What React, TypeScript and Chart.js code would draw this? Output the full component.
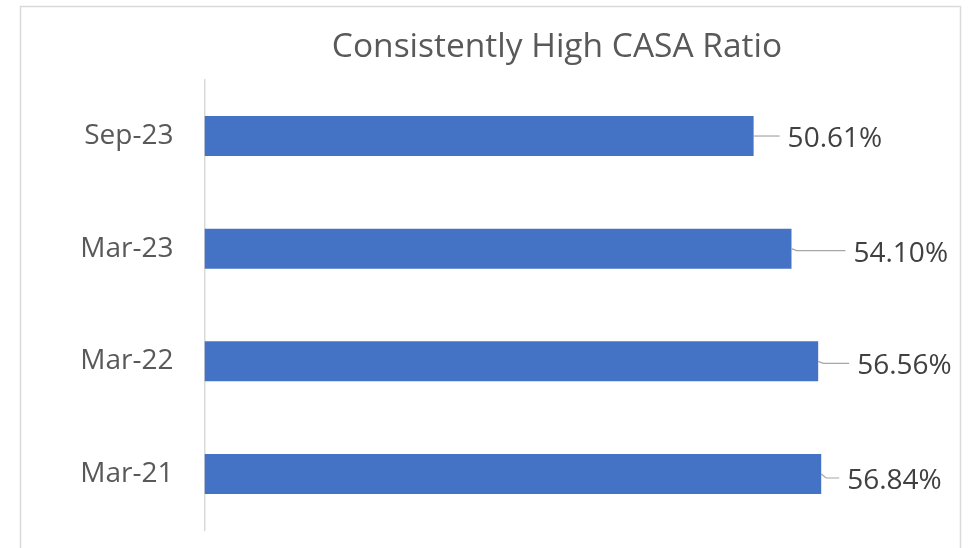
import React, { useEffect, useRef } from "react";
import { Chart, registerables } from "chart.js";

Chart.register(...registerables);

const categories = ["Sep-23", "Mar-23", "Mar-22", "Mar-21"];
const casaRatio = [50.61, 54.10, 56.56, 56.84];
const valueLabels = ["50.61%", "54.10%", "56.56%", "56.84%"];
const chartTitle = "Consistently High CASA Ratio";

// label placement (pixels from bar end / bar centre)
const labelDx = [34, 62, 39, 26];
const labelDy = [11, 13, 13, 15];

const FONT = "'Open Sans', sans-serif";

export default function App() {
  const ref = useRef<HTMLCanvasElement | null>(null);

  useEffect(() => {
    if (!ref.current) return;
    const decor = {
      id: "decor",
      beforeDraw(chart: any) {
        const ctx = chart.ctx;
        ctx.save();
        ctx.fillStyle = "#ffffff";
        ctx.fillRect(0, 0, chart.width, chart.height);
        ctx.strokeStyle = "#d9d9d9";
        ctx.lineWidth = 1.5;
        ctx.strokeRect(20.5, 6.5, 940, 600);
        ctx.fillStyle = "#595959";
        ctx.font = `33.5px ${FONT}`;
        ctx.textAlign = "center";
        ctx.textBaseline = "alphabetic";
        ctx.fillText(chartTitle, 557, 57);
        ctx.restore();
      },
      afterDatasetsDraw(chart: any) {
        const ctx = chart.ctx;
        const meta = chart.getDatasetMeta(0);
        ctx.save();
        meta.data.forEach((bar: any, i: number) => {
          const textX = bar.x + labelDx[i];
          const baseY = bar.y + labelDy[i];
          const lineY = baseY - 11;
          ctx.strokeStyle = "#a6a6a6";
          ctx.lineWidth = 1.2;
          ctx.beginPath();
          ctx.moveTo(bar.x, bar.y);
          ctx.lineTo(bar.x + 5, lineY);
          ctx.lineTo(textX - 8, lineY);
          ctx.stroke();
          ctx.fillStyle = "#404040";
          ctx.font = `28px ${FONT}`;
          ctx.textAlign = "left";
          ctx.textBaseline = "alphabetic";
          ctx.fillText(valueLabels[i], textX, baseY);
        });
        ctx.restore();
      },
    };

    const chart = new Chart(ref.current, {
      type: "bar",
      data: {
        labels: categories,
        datasets: [
          {
            data: casaRatio,
            backgroundColor: "#4472C4",
            borderWidth: 0,
            barPercentage: 0.355,
            categoryPercentage: 1,
          },
        ],
      },
      options: {
        indexAxis: "y",
        animation: false,
        responsive: false,
        devicePixelRatio: 1,
        layout: { padding: { top: 79.7, bottom: 17.7, left: 0, right: 112.5 } },
        plugins: {
          legend: { display: false },
          title: { display: false },
          tooltip: { enabled: false },
        },
        scales: {
          x: { display: false, min: 0, max: 60 },
          y: {
            afterFit(scale: any) {
              scale.width = 204.5;
              scale.paddingTop = 0;
              scale.paddingBottom = 0;
            },
            grid: { display: false, drawTicks: false },
            border: { display: true, color: "#d9d9d9", width: 1.5 },
            ticks: {
              color: "#595959",
              padding: 31,
              font: { family: FONT, size: 28 },
            },
          },
        },
      },
      plugins: [decor],
    });
    return () => chart.destroy();
  }, []);

  return (
    <canvas
      ref={ref}
      width={968}
      height={548}
      style={{ position: "fixed", left: 0, top: 0, width: 968, height: 548 }}
    />
  );
}
